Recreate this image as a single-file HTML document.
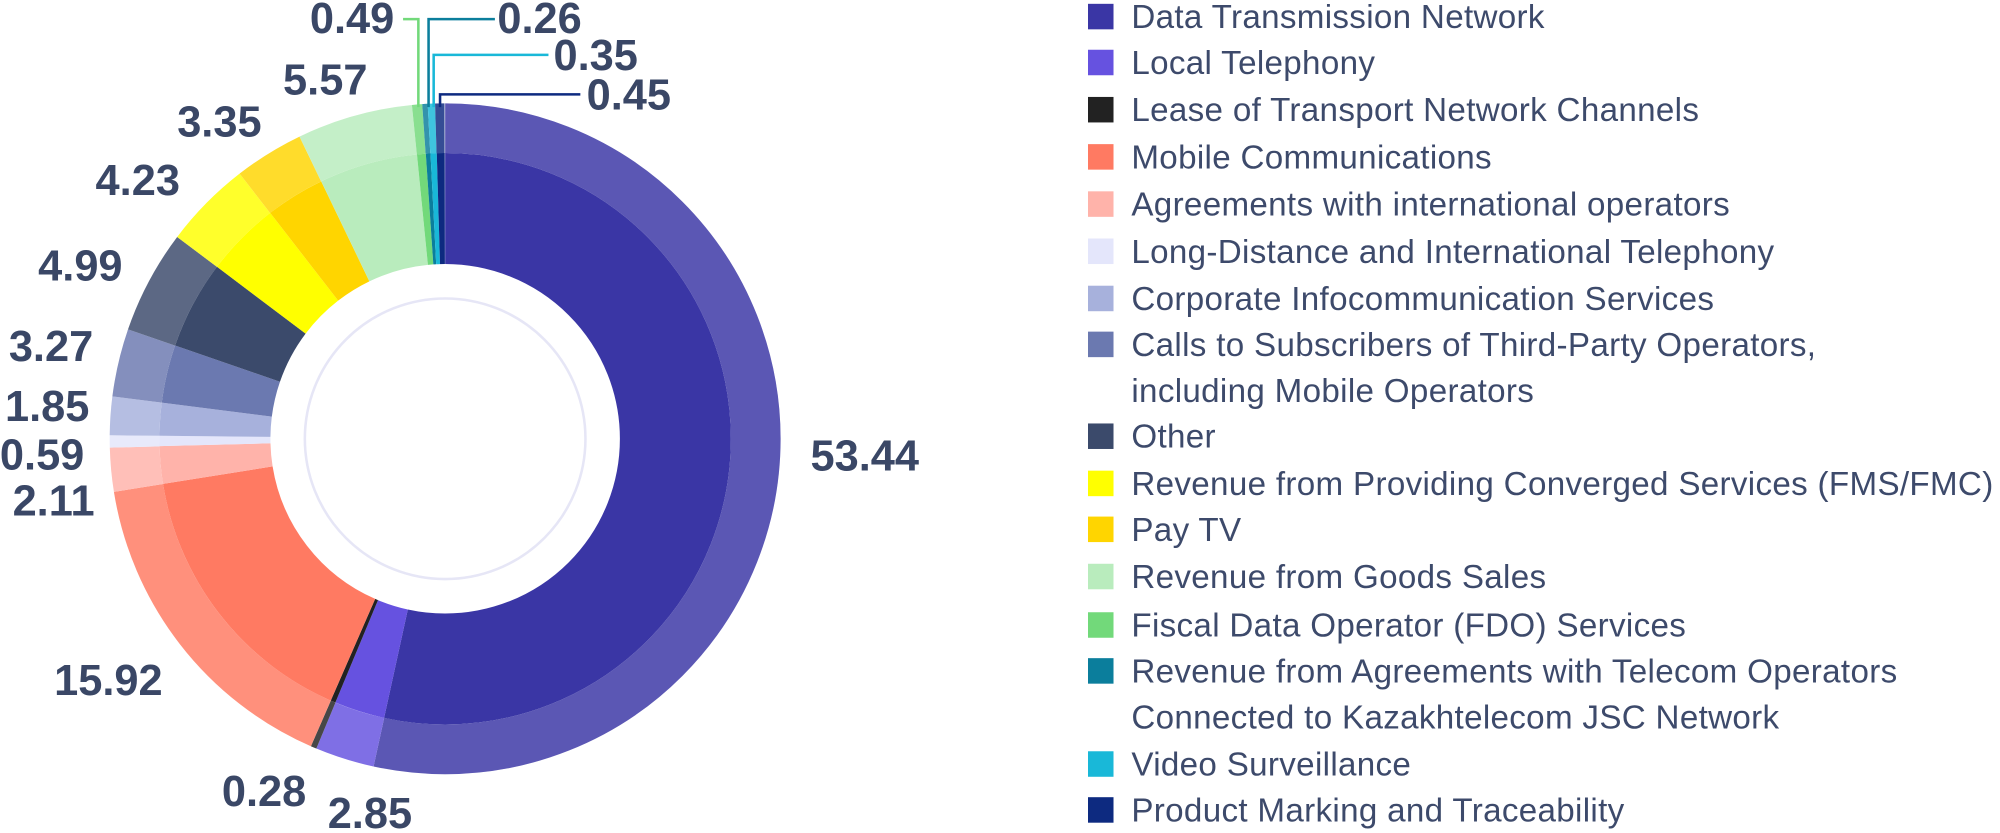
<!DOCTYPE html>
<html><head><meta charset="utf-8"><style>
html,body{margin:0;padding:0;background:#fff;}
body{width:2000px;height:831px;position:relative;overflow:hidden;font-family:"Liberation Sans",sans-serif;}
#wrap{position:absolute;left:0;top:0;width:1568px;height:652px;transform:scale(1.2755);transform-origin:0 0;}
.lg{position:absolute;left:853px;}
.lg .sw{position:absolute;left:0;width:20px;height:20px;}
.lg .t{position:absolute;left:34px;font-size:26px;letter-spacing:0.25px;color:#3d4a6b;line-height:36px;white-space:nowrap;}
</style></head><body>
<div id="wrap">
<svg width="840" height="652" style="position:absolute;left:0;top:0" font-family="Liberation Sans, sans-serif">
<g transform="rotate(-90 349 344)">
<g id="segs" fill="none"></g>
</g>
<circle cx="349" cy="344" r="110" fill="none" stroke="#e6e6f6" stroke-width="2"/>
<g fill="none" stroke-width="2">
<polyline points="316,15 328,15 328,84" stroke="#72d97a"/>
<polyline points="388,15 336,15 336,84" stroke="#0b7e9c"/>
<polyline points="430,43 340,43 340,84" stroke="#19b8d8"/>
<polyline points="455,74 345,74 345,84" stroke="#0d2a80"/>
</g>
<g font-weight="bold" font-size="34" fill="#3a4766" text-anchor="middle">
<text x="678" y="369">53.44</text>
<text x="290" y="649">2.85</text>
<text x="207" y="632">0.28</text>
<text x="85" y="545">15.92</text>
<text x="42" y="404">2.11</text>
<text x="33" y="368">0.59</text>
<text x="37" y="330">1.85</text>
<text x="40" y="283">3.27</text>
<text x="63" y="220">4.99</text>
<text x="108" y="153">4.23</text>
<text x="172" y="107">3.35</text>
<text x="255" y="74">5.57</text>
<text x="276" y="26">0.49</text>
<text x="423" y="26">0.26</text>
<text x="467" y="55">0.35</text>
<text x="493" y="86">0.45</text>
</g>
</svg>
<div class="lg">
<div class="sw" style="top:3px;background:#3a36a5"></div><div class="t" style="top:-5px">Data Transmission Network</div>
<div class="sw" style="top:39px;background:#6652e0"></div><div class="t" style="top:31px">Local Telephony</div>
<div class="sw" style="top:76px;background:#222"></div><div class="t" style="top:68px">Lease of Transport Network Channels</div>
<div class="sw" style="top:113px;background:#ff7a62"></div><div class="t" style="top:105px">Mobile Communications</div>
<div class="sw" style="top:150px;background:#ffb3aa"></div><div class="t" style="top:142px">Agreements with international operators</div>
<div class="sw" style="top:187px;background:#e4e6fb"></div><div class="t" style="top:179px">Long-Distance and International Telephony</div>
<div class="sw" style="top:224px;background:#a7b1dc"></div><div class="t" style="top:216px">Corporate Infocommunication Services</div>
<div class="sw" style="top:260px;background:#6b79b0"></div><div class="t" style="top:252px">Calls to Subscribers of Third-Party Operators,<br>including Mobile Operators</div>
<div class="sw" style="top:332px;background:#3b4a6b"></div><div class="t" style="top:324px">Other</div>
<div class="sw" style="top:369px;background:#ffff00"></div><div class="t" style="top:361px">Revenue from Providing Converged Services (FMS/FMC)</div>
<div class="sw" style="top:405px;background:#ffd500"></div><div class="t" style="top:397px">Pay TV</div>
<div class="sw" style="top:442px;background:#b9ecbd"></div><div class="t" style="top:434px">Revenue from Goods Sales</div>
<div class="sw" style="top:480px;background:#72d97a"></div><div class="t" style="top:472px">Fiscal Data Operator (FDO) Services</div>
<div class="sw" style="top:516px;background:#0b7e9c"></div><div class="t" style="top:508px">Revenue from Agreements with Telecom Operators<br>Connected to Kazakhtelecom JSC Network</div>
<div class="sw" style="top:589px;background:#19b8d8"></div><div class="t" style="top:581px">Video Surveillance</div>
<div class="sw" style="top:625px;background:#0d2a80"></div><div class="t" style="top:617px">Product Marking and Traceability</div>
</div>
</div>
<script>
var d=[[53.44,"#3a36a5"],[2.85,"#6652e0"],[0.28,"#222222"],[15.92,"#ff7a62"],[2.11,"#ffb3aa"],[0.59,"#e4e6fb"],[1.85,"#a7b1dc"],[3.27,"#6b79b0"],[4.99,"#3b4a6b"],[4.23,"#ffff00"],[3.35,"#ffd500"],[5.57,"#b9ecbd"],[0.49,"#72d97a"],[0.26,"#0b7e9c"],[0.35,"#19b8d8"],[0.45,"#0d2a80"]];
var g=document.getElementById("segs"),s=0,h="";
d.forEach(function(e){
 h+='<circle cx="349" cy="344" r="180.5" pathLength="100" stroke="'+e[1]+'" stroke-width="87" stroke-dasharray="'+e[0]+' 100" stroke-dashoffset="'+(-s)+'"/>';
 h+='<circle cx="349" cy="344" r="243.5" pathLength="100" stroke="'+e[1]+'" stroke-width="39" stroke-dasharray="'+e[0]+' 100" stroke-dashoffset="'+(-s)+'"/>';
 s+=e[0];
});
h+='<circle cx="349" cy="344" r="243.5" stroke="#ffffff" stroke-opacity="0.17" stroke-width="39"/>';
g.innerHTML=h;
</script>
</body></html>
